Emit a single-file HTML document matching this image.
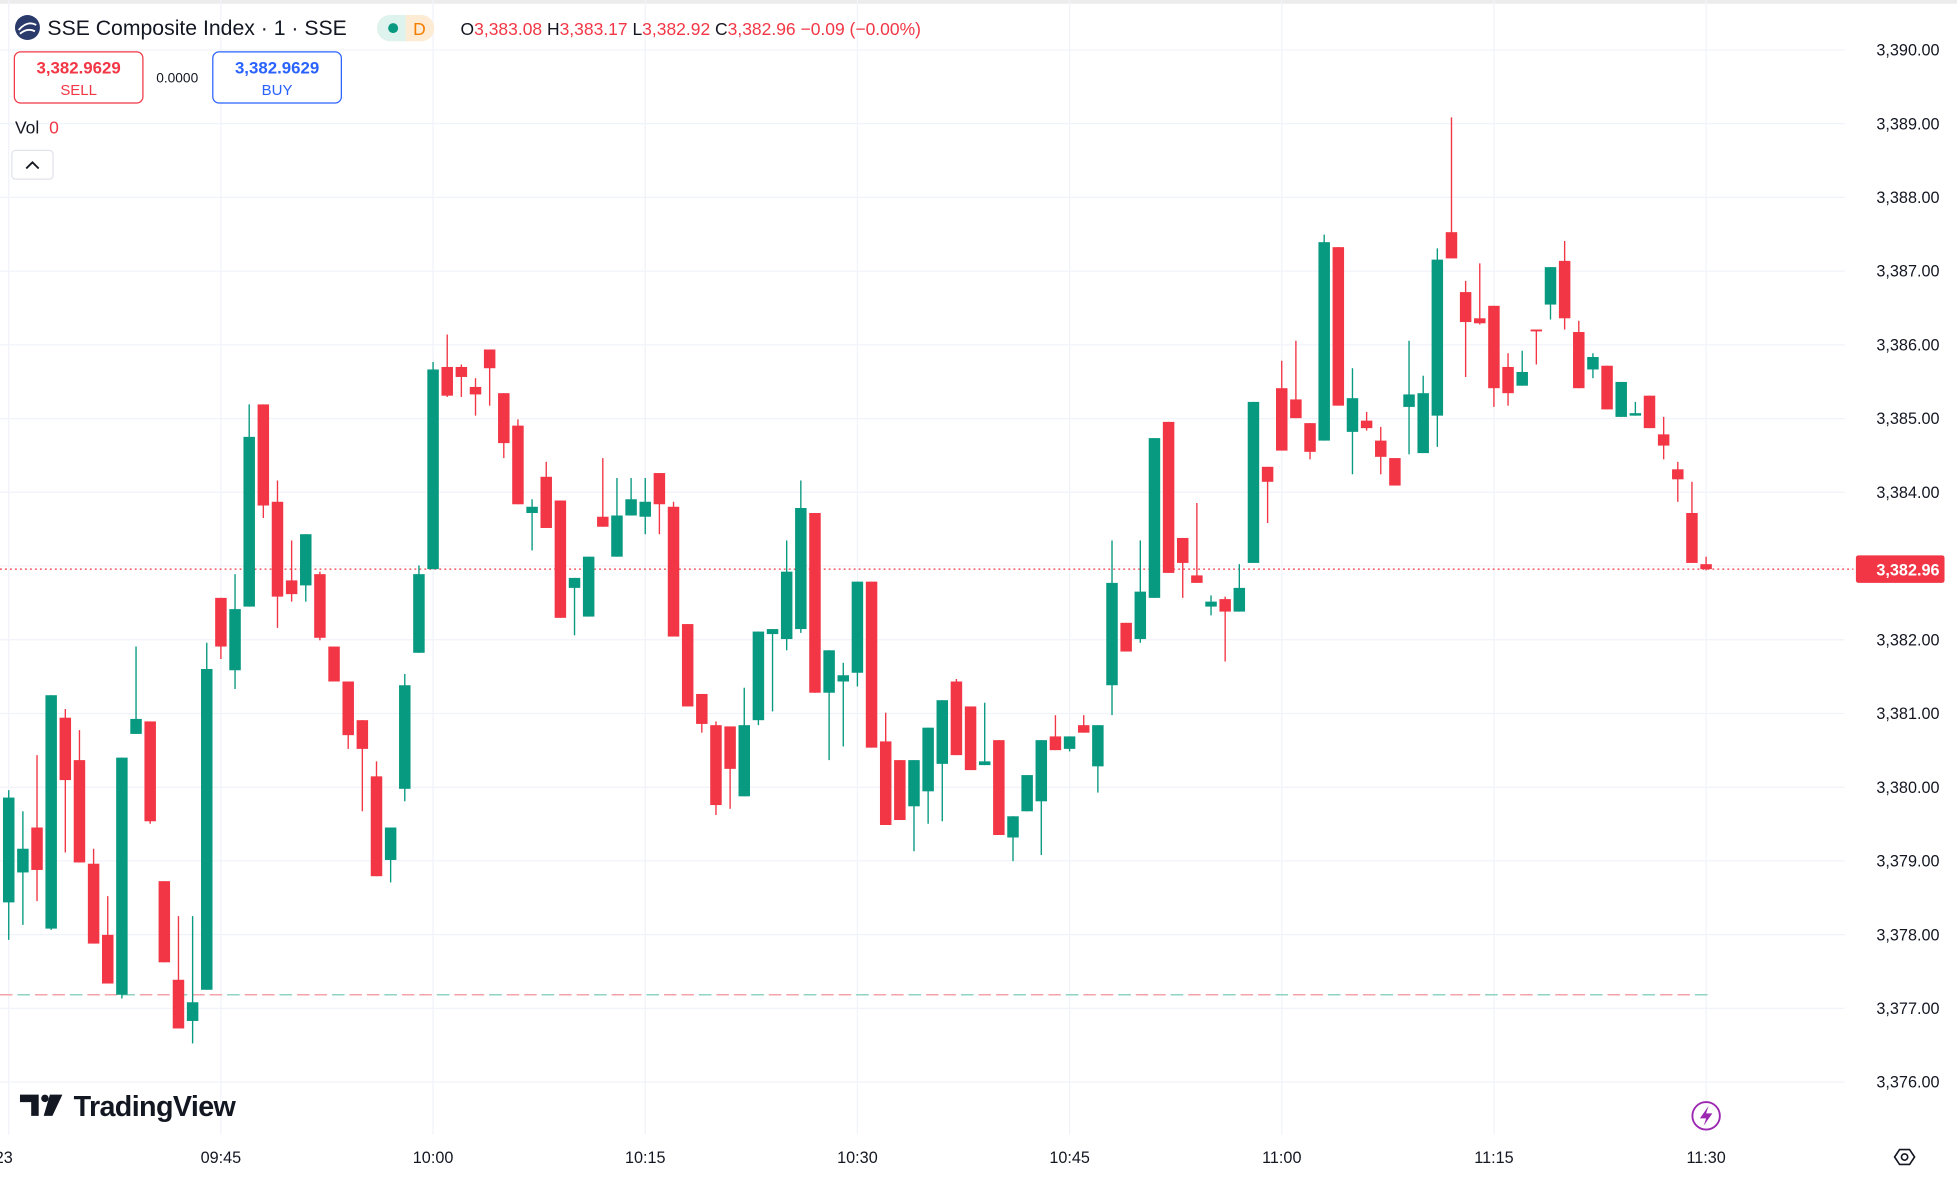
<!DOCTYPE html>
<html><head><meta charset="utf-8"><style>
html,body{margin:0;padding:0;background:#fff;}
svg{display:block;}
text{font-family:"Liberation Sans","DejaVu Sans",sans-serif;}
</style></head><body>
<svg id="c" width="1957" height="1185" viewBox="0 0 1568 949.4" xmlns="http://www.w3.org/2000/svg">
<rect x="0" y="0" width="1568" height="949.4" fill="#fff"/>
<rect x="0" y="0" width="1568" height="3" fill="#ececec"/>
<g id="grid" stroke="#f0f3fa" stroke-width="1"></g>
<line x1="0" y1="456" x2="1485" y2="456" stroke="#f23645" stroke-width="1" stroke-dasharray="1.5,2.5"/>
<line x1="0" y1="797" x2="1372" y2="797" stroke="#f5a3a9" stroke-width="1.2" stroke-dasharray="10,4"/>
<line x1="14" y1="797" x2="1372" y2="797" stroke="#8fd3c3" stroke-width="1.2" stroke-dasharray="10,32"/>
<g id="candles"></g>
<!-- price axis -->
<g font-size="13" fill="#131722" text-anchor="end" id="pl"></g>
<rect x="1487" y="445" width="71" height="22" rx="2" fill="#f23645"/>
<text x="1554" y="461" font-size="13" fill="#fff" font-weight="bold" text-anchor="end">3,382.96</text>
<!-- time axis -->
<g font-size="13" fill="#131722" text-anchor="middle">
<text x="3" y="932">23</text>
<text x="177" y="932">09:45</text><text x="347" y="932">10:00</text><text x="517" y="932">10:15</text>
<text x="687" y="932">10:30</text><text x="857" y="932">10:45</text><text x="1027" y="932">11:00</text>
<text x="1197" y="932">11:15</text><text x="1367" y="932">11:30</text>
</g>
<g transform="translate(1526,927)" fill="none" stroke="#131722" stroke-width="1.3">
<path d="M-8,0 L-4,-6 L4,-6 L8,0 L4,6 L-4,6 Z"/><circle r="2.5"/></g>
<circle cx="1367" cy="894" r="11" fill="none" stroke="#9c27b0" stroke-width="1.5"/>
<path d="M1369,886 L1362,896 L1367,896 L1365,902 L1372,892 L1367,892 Z" fill="#9c27b0"/>
<!-- TradingView logo -->
<g fill="#131722">
<path d="M16,877 h15 v17 h-6 v-11 h-9 z"/>
<circle cx="36" cy="880" r="3"/>
<path d="M40,877 h10 l-8,17 h-7 z"/>
</g>
<text x="59" y="894" font-size="23" font-weight="bold" fill="#131722" letter-spacing="-0.5">TradingView</text>
<!-- header -->
<circle cx="22" cy="22" r="10" fill="#2a3a6a"/>
<path d="M15,24 q7,-8 14,-4 M16,27 q6,-5 12,-2" stroke="#fff" stroke-width="1.5" fill="none"/>
<text x="38" y="28" font-size="17" fill="#131722">SSE Composite Index · 1 · SSE</text>
<rect x="302" y="12" width="46" height="21" rx="10.5" fill="#fdebd3"/>
<path d="M312.5,12 h12.5 v21 h-12.5 a10.5,10.5 0 0 1 0,-21z" fill="#dff3ee"/>
<circle cx="315" cy="22.5" r="4" fill="#089981"/>
<text x="331" y="28" font-size="14" fill="#f57c00">D</text>
<text x="369" y="28" font-size="14" fill="#131722">O<tspan fill="#f23645">3,383.08</tspan> H<tspan fill="#f23645">3,383.17</tspan> L<tspan fill="#f23645">3,382.92</tspan> C<tspan fill="#f23645">3,382.96</tspan> <tspan fill="#f23645">−0.09 (−0.00%)</tspan></text>
<rect x="11.5" y="41.5" width="103" height="41" rx="5" fill="#fff" stroke="#f23645"/>
<text x="63" y="59" font-size="13.5" font-weight="bold" fill="#f23645" text-anchor="middle">3,382.9629</text>
<text x="63" y="76" font-size="12" fill="#f23645" text-anchor="middle">SELL</text>
<text x="142" y="66" font-size="11" fill="#131722" text-anchor="middle">0.0000</text>
<rect x="170.5" y="41.5" width="103" height="41" rx="5" fill="#fff" stroke="#2962ff"/>
<text x="222" y="59" font-size="13.5" font-weight="bold" fill="#2962ff" text-anchor="middle">3,382.9629</text>
<text x="222" y="76" font-size="12" fill="#2962ff" text-anchor="middle">BUY</text>
<text x="12" y="107" font-size="14" fill="#131722">Vol <tspan fill="#f23645" dx="4">0</tspan></text>
<rect x="9.5" y="120.5" width="33" height="23" rx="3" fill="#fff" stroke="#e0e3eb"/>
<path d="M21,135 l5,-5 l5,5" fill="none" stroke="#131722" stroke-width="1.5"/>
</svg>
<script>
var NS="http://www.w3.org/2000/svg";
function el(p,t,a){var e=document.createElementNS(NS,t);for(var k in a)e.setAttribute(k,a[k]);p.appendChild(e);return e;}
var g=document.getElementById("grid"),pl=document.getElementById("pl");
for(var k=0;k<=14;k++){var y=40+59.07*k;el(g,"line",{x1:0,y1:y,x2:1478,y2:y});
 var t=el(pl,"text",{x:1554,y:y+4.5});t.textContent="3,"+(390-k)+".00";}
[7,177,347,517,687,857,1027,1197,1367].forEach(function(x){el(g,"line",{x1:x,y1:0,x2:x,y2:909});});
var d=[
"g,639,723,633,753","g,680,699,650,741","r,663,697,605,722","g,557,744,557,745","r,575,625,568,683","r,609,691,585,691","r,692,756,680,756","r,749,788,718,788","g,607,797,607,800","g,576,588,518,588",
"r,578,658,578,660","r,706,771,706,771","r,785,824,734,824","g,803,818,734,836","g,536,793,515,793","r,479,518,479,528","g,488,537,460,552","g,350,486,324,486","r,324,405,324,415","r,402,478,385,503",
"r,465,476,433,482","g,428,469,428,482","r,460,511,458,513","r,518,546,518,546","r,546,589,546,600","r,577,600,577,650","r,622,702,610,702","g,663,689,663,707","g,549,632,540,642","g,460,523,453,523",
"g,296,456,290,456","r,294,317,268,318","r,294,302,292,318","r,310,316,303,333","r,280,295,280,325","r,315,355,315,367","r,341,404,336,404","g,406,411,400,441","r,382,423,370,423","r,401,495,401,495",
"g,463,471,463,509","g,446,494,446,494","r,414,422,367,422","g,413,446,383,446","g,400,413,383,413","g,402,414,383,428","r,379,404,379,428","r,406,510,402,510","r,500,566,500,566","r,556,580,556,587",
"r,581,645,578,653","r,582,616,582,648","g,581,638,551,638","g,506,577,506,581","g,504,508,504,570","g,458,512,433,521","g,407,504,385,507","r,411,555,411,555","g,521,555,521,609","g,541,546,531,598",
"g,466,539,466,550","r,466,599,466,599","r,594,661,571,661","r,609,657,609,657","g,609,646,609,682","g,583,634,583,660","g,561,612,561,658","r,546,605,544,605","r,566,617,566,617","g,610,613,563,613",
"r,593,669,593,669","g,654,671,654,690","g,621,650,621,650","g,593,642,593,685","r,590,601,573,601","g,590,600,590,602","r,581,587,573,587","g,581,614,581,635","g,467,549,433,573","r,499,522,499,522",
"g,474,512,433,515","g,351,479,351,479","r,338,459,338,459","r,431,451,431,479","r,461,467,403,467","g,482,486,477,493","r,480,490,478,530","g,471,490,452,490","g,322,451,322,451","r,374,386,374,419",
"r,311,361,289,361","r,320,335,273,335","r,339,362,339,368","g,194,353,188,353","r,198,325,198,325","g,319,346,295,380","r,337,343,330,345","r,353,366,342,380","r,367,389,367,389","g,316,326,273,364",
"g,315,363,301,363","g,208,333,199,358","r,186,207,94,207","r,234,258,225,302","r,255,259,211,260","r,245,311,245,326","r,294,315,283,325","g,298,309,281,309","r,264,265,264,292","g,214,244,214,256",
"r,209,255,193,264","r,266,311,257,311","g,286,296,283,303","r,293,328,293,328","g,306,334,306,334","g,331,333,322,333","r,317,343,317,343","r,348,357,334,368","r,376,384,370,402","r,411,451,386,451","r,452,456,446,457"];
var cg=document.getElementById("candles");
d.forEach(function(s,i){var a=s.split(","),x=7+i*11.333,c=a[0]=="g"?"#089981":"#f23645";
 var t=+a[1],b=+a[2],h=+a[3],l=+a[4];if(b-t<1.5)b=t+1.5;
 el(cg,"line",{x1:x,y1:h,x2:x,y2:l,stroke:c,"stroke-width":1.1});
 el(cg,"rect",{x:x-4.6,y:t,width:9.2,height:b-t,fill:c});});
</script>
</body></html>
